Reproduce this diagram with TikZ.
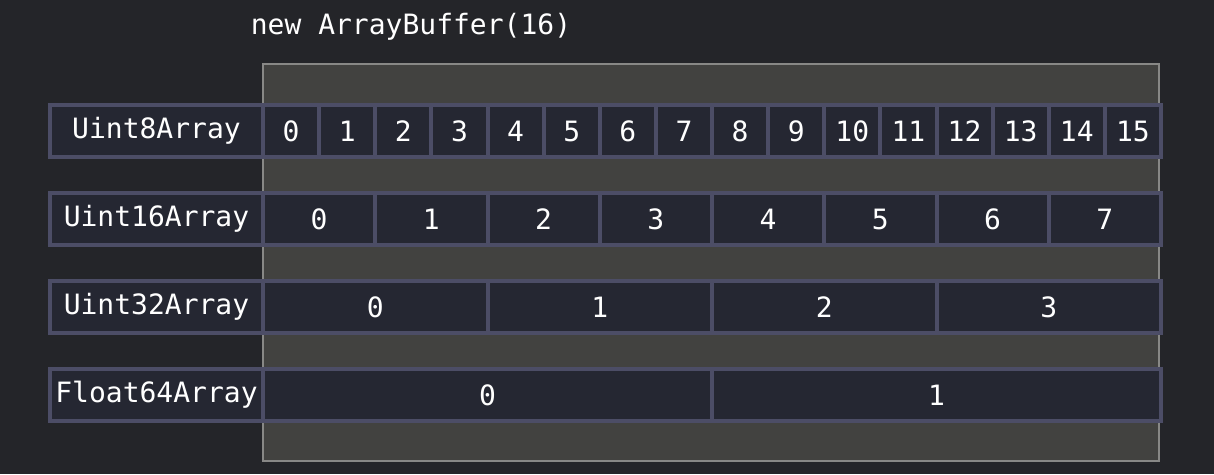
\documentclass[tikz,border=0pt]{standalone}
\usepackage{fontspec}
\setmonofont{DejaVu Sans Mono}
\usetikzlibrary{positioning}
\definecolor{bgcolor}{RGB}{36,37,41}
\definecolor{bufferfill}{RGB}{66,66,64}
\definecolor{bufferline}{RGB}{136,136,134}
\definecolor{cellfill}{RGB}{37,39,50}
\definecolor{cellline}{RGB}{76,77,102}

\begin{document}
\begin{tikzpicture}[x=1pt,y=-1pt,
  codefont/.style={text=white,font=\ttfamily\fontsize{28}{33}\selectfont},
  bufferstyle/.style={rectangle,draw=bufferline,fill=bufferfill,line width=2pt,inner sep=0pt,minimum width=896pt,minimum height=397pt},
  cellstyle/.style={rectangle,draw=cellline,fill=cellfill,line width=4pt,inner sep=0pt,minimum height=52pt,codefont}]

       \fill [bgcolor] (0,0) rectangle (1214,474);
       \useasboundingbox (0,0) rectangle (1214,474);

       \node [codefont] (title) at (411,27) {new ArrayBuffer(16)};
       \node [bufferstyle] (buffer) at (711,262.5) {};

       \foreach \name/\n/\y in {Uint8Array/16/131,Uint16Array/8/219,Uint32Array/4/307,Float64Array/2/395}{
         \node [cellstyle,minimum width=213pt] (\name) at (156.5,\y) {\name};
         \pgfmathsetmacro{\w}{898/\n}
         \pgfmathtruncatemacro{\last}{\n-1}
         \foreach \i in {0,...,\last}{
           \node [cellstyle,minimum width=\w pt] (\name-\i) at ({263+(\i+0.5)*\w},\y) {\i};
         }
       }
\end{tikzpicture}
\end{document}
